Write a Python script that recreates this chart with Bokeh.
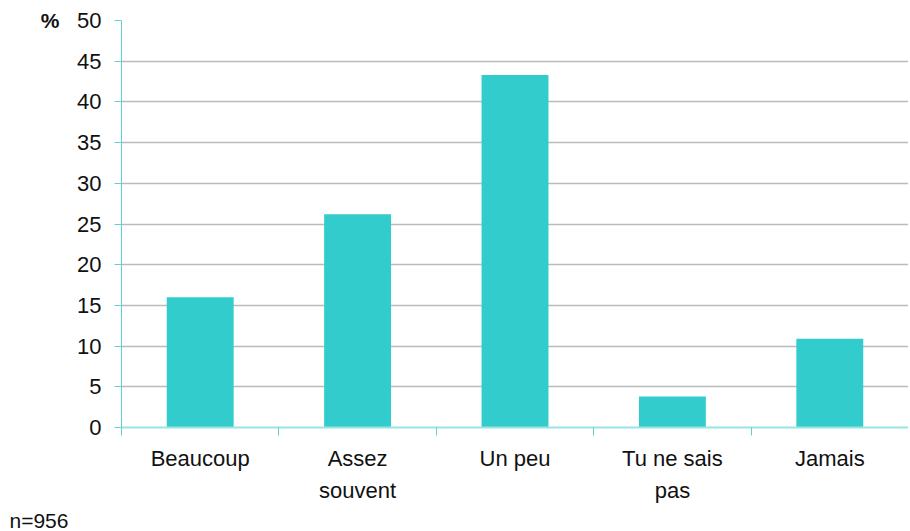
from bokeh.plotting import figure
from bokeh.models import FixedTicker, Range1d, ColumnDataSource, LinearAxis, Title
from bokeh.embed import file_html
from bokeh.resources import INLINE

categories = ["Beaucoup", "Assez\nsouvent", "Un peu", "Tu ne sais\npas", "Jamais"]
values = [16.0, 26.2, 43.3, 3.8, 10.9]
y_ticks = [0, 5, 10, 15, 20, 25, 30, 35, 40, 45, 50]
note = "n=956"
unit = "%"

FONT = "Liberation Sans"
BAR = "#33cccc"

xs = [i + 0.5 for i in range(len(categories))]
src = ColumnDataSource(dict(x=xs, top=values))

p = figure(width=908, height=531, output_backend="svg", toolbar_location=None,
           x_range=Range1d(0, len(categories)), y_range=Range1d(0, 50),
           min_border_left=121, min_border_top=20, min_border_bottom=103,
           min_border_right=0)
p.outline_line_color = None
p.background_fill_color = "white"
p.border_fill_color = "white"

p.vbar(x="x", top="top", width=0.425, bottom=0, source=src, color=BAR, line_color=None)

# x axis
p.xaxis.ticker = FixedTicker(ticks=xs, minor_ticks=list(range(len(categories) + 1)))
p.xaxis.major_label_overrides = {x: c for x, c in zip(xs, categories)}
p.xaxis.major_tick_out = 0
p.xaxis.major_tick_in = 0
p.xaxis.minor_tick_out = 8
p.xaxis.minor_tick_in = 0
p.xaxis.minor_tick_line_color = "#66d0d0"
p.xaxis.axis_line_color = "#99e3e3"
p.xaxis.axis_line_width = 2
p.xaxis.major_label_text_font = FONT
p.xaxis.major_label_text_font_size = "22px"
p.xaxis.major_label_text_color = "#111111"
p.xaxis.major_label_text_line_height = 1.3
p.xaxis.major_label_standoff = 10

# y axis
p.yaxis.ticker = FixedTicker(ticks=y_ticks)
p.yaxis.major_tick_out = 7
p.yaxis.major_tick_in = 0
p.yaxis.minor_tick_line_color = None
p.yaxis.major_tick_line_color = "#66d0d0"
p.yaxis.axis_line_color = "#66d0d0"
p.yaxis.major_label_text_font = FONT
p.yaxis.major_label_text_font_size = "22px"
p.yaxis.major_label_text_color = "#111111"
p.yaxis.major_label_standoff = 13

# unit marker beside the top tick
unit_axis = LinearAxis(ticker=FixedTicker(ticks=[y_ticks[-1]]),
                       major_label_overrides={y_ticks[-1]: unit},
                       axis_line_color=None, major_tick_line_color=None,
                       minor_tick_line_color=None,
                       major_label_text_font=FONT, major_label_text_font_size="21px",
                       major_label_text_font_style="bold",
                       major_label_text_color="#111111",
                       major_label_standoff=9)
p.add_layout(unit_axis, "left")

p.xgrid.grid_line_color = None
p.ygrid.ticker = FixedTicker(ticks=y_ticks)
p.ygrid.grid_line_color = "#bbbbbb"
p.ygrid.grid_line_width = 1.5

p.add_layout(Title(text=note, align="left", offset=-112, standoff=0,
                   text_font=FONT, text_font_size="21px", text_font_style="normal",
                   text_color="#111111"), "below")

open("out.html", "w").write(file_html(p, INLINE))
